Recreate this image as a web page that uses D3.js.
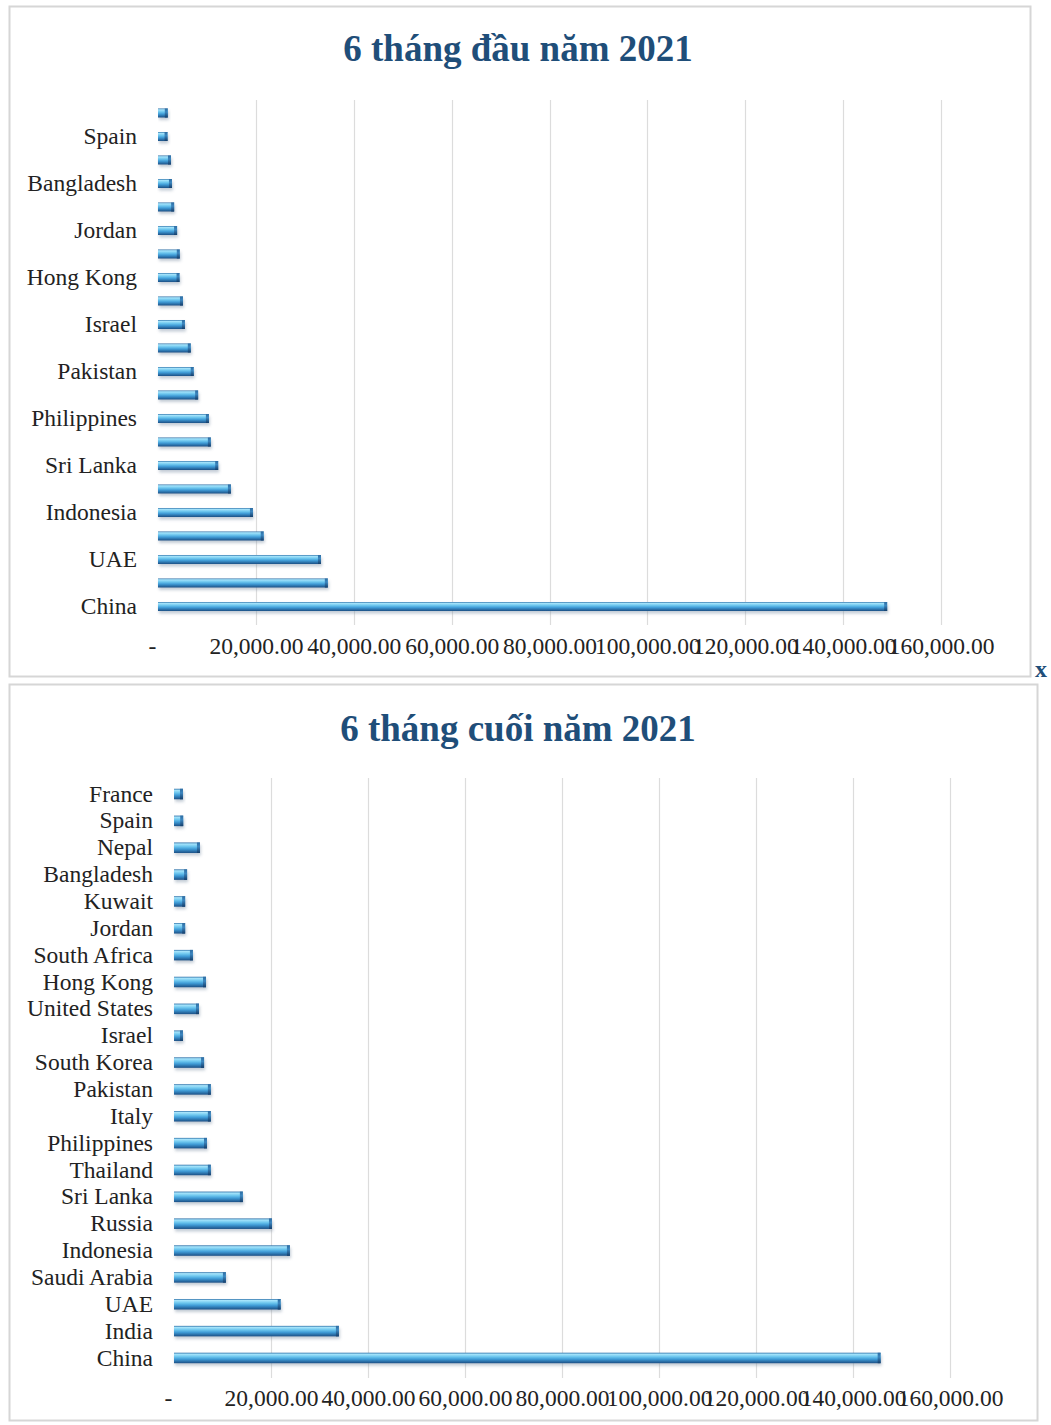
<!DOCTYPE html>
<html>
<head>
<meta charset="utf-8">
<script src="https://cdn.jsdelivr.net/npm/d3@7"></script>
<style>
  html, body { margin: 0; padding: 0; background: #ffffff; }
  svg { display: block; }
</style>
</head>
<body>
<svg id="chart" width="1051" height="1425"></svg>
<script>
// Countries, listed top to bottom as they appear on both panels
const countries = [
  "France", "Spain", "Nepal", "Bangladesh", "Kuwait", "Jordan", "South Africa",
  "Hong Kong", "United States", "Israel", "South Korea", "Pakistan", "Italy",
  "Philippines", "Thailand", "Sri Lanka", "Russia", "Indonesia", "Saudi Arabia",
  "UAE", "India", "China"
];

// First half of 2021
const firstHalf = [
  2000, 1950, 2650, 2850, 3300, 3900, 4450,
  4400, 5100, 5500, 6700, 7300, 8200,
  10400, 10800, 12300, 14900, 19400, 21600,
  33300, 34700, 149000
];

// Second half of 2021
const secondHalf = [
  1850, 1900, 5350, 2700, 2300, 2300, 3900,
  6600, 5150, 1850, 6200, 7600, 7600,
  6800, 7600, 14200, 20200, 23900, 10700,
  22000, 34000, 145700
];

const tickValues = [0, 20000, 40000, 60000, 80000, 100000, 120000, 140000, 160000];
const fmt = d => d === 0 ? "-" : d3.format(",.2f")(d);

const titles = ["6 tháng đầu năm 2021", "6 tháng cuối năm 2021"];

const svg = d3.select("#chart");
const defs = svg.append("defs");

// Glossy bar fill: light cyan highlight on top, deep blue underside
const grad = defs.append("linearGradient")
  .attr("id", "barFill").attr("x1", 0).attr("y1", 0).attr("x2", 0).attr("y2", 1);
[["0%", "#2a6ea6"], ["14%", "#a6e4fb"], ["38%", "#6cc6ee"], ["62%", "#3f9bd6"], ["100%", "#1b4f85"]]
  .forEach(([o, c]) => grad.append("stop").attr("offset", o).attr("stop-color", c));

const capGrad = defs.append("linearGradient")
  .attr("id", "capFill").attr("x1", 0).attr("y1", 0).attr("x2", 0).attr("y2", 1);
[["0%", "#2d6da3"], ["40%", "#3c86bf"], ["100%", "#143e6b"]]
  .forEach(([o, c]) => capGrad.append("stop").attr("offset", o).attr("stop-color", c));

const blur = defs.append("filter").attr("id", "shadow")
  .attr("x", "-10%").attr("y", "-60%").attr("width", "130%").attr("height", "260%");
blur.append("feGaussianBlur").attr("stdDeviation", 1.6);

function panel(cfg) {
  const g = svg.append("g");

  // Panel frame
  g.append("rect")
    .attr("x", cfg.frame[0] + 0.5).attr("y", cfg.frame[1] + 0.5)
    .attr("width", cfg.frame[2] - cfg.frame[0]).attr("height", cfg.frame[3] - cfg.frame[1])
    .attr("fill", "#ffffff").attr("stroke", "#d6d6d6").attr("stroke-width", 2);

  // Title
  g.append("text")
    .attr("x", cfg.titleX).attr("y", cfg.titleY)
    .attr("text-anchor", "middle")
    .attr("font-family", "'Liberation Serif', 'DejaVu Serif', serif")
    .attr("font-weight", "bold").attr("font-size", 37)
    .attr("fill", "#1f4e79")
    .text(cfg.title);

  const x = d3.scaleLinear().domain([0, 160000]).range([cfg.x0, cfg.x1]);
  const y = d3.scaleBand().domain(countries).range([cfg.yTop, cfg.yBottom]);

  // Vertical gridlines
  g.append("g").selectAll("line")
    .data(tickValues.slice(1))
    .join("line")
    .attr("x1", d => Math.round(x(d)) + 0.5).attr("x2", d => Math.round(x(d)) + 0.5)
    .attr("y1", cfg.gridTop).attr("y2", cfg.gridBottom)
    .attr("stroke", "#dcdcdc").attr("stroke-width", 1.2);

  // Value axis labels
  const xAxis = d3.axisBottom(x).tickValues(tickValues).tickFormat(fmt).tickSize(0).tickPadding(0);
  const xa = g.append("g")
    .attr("transform", `translate(0,${cfg.axisY})`)
    .call(xAxis);
  xa.select(".domain").remove();
  xa.selectAll("text")
    .attr("font-family", "'Liberation Serif', serif")
    .attr("font-size", 23.5).attr("fill", "#222");
  xa.selectAll(".tick").filter(d => d === 0).select("text").attr("dx", -6);

  // Category labels
  const yAxis = d3.axisLeft(y).tickValues(countries.filter((c, i) => (countries.length - 1 - i) % cfg.labelEvery === 0))
    .tickSize(0).tickPadding(cfg.labelPad);
  const ya = g.append("g").attr("transform", `translate(${cfg.x0},0)`).call(yAxis);
  ya.select(".domain").remove();
  ya.selectAll("text")
    .attr("font-family", "'Liberation Serif', serif")
    .attr("font-size", cfg.labelSize).attr("fill", "#222");

  const rows = countries.map((c, i) => ({ name: c, value: cfg.values[i] }));
  const bh = cfg.barH;
  const bars = g.append("g").selectAll("g").data(rows).join("g")
    .attr("transform", d => `translate(0,${y(d.name) + y.bandwidth() / 2 - bh / 2})`);

  // Soft drop shadow under each bar
  bars.append("rect")
    .attr("x", x(0) + 1).attr("y", 2.5)
    .attr("width", d => Math.max(4, x(d.value) - x(0)))
    .attr("height", bh)
    .attr("fill", "#7a8ea3").attr("opacity", 0.45)
    .attr("filter", "url(#shadow)");

  // Bar body
  bars.append("rect")
    .attr("x", x(0)).attr("y", 0)
    .attr("width", d => Math.max(4, x(d.value) - x(0)))
    .attr("height", bh)
    .attr("fill", "url(#barFill)");

  // Darker end face
  bars.append("rect")
    .attr("x", d => x(0) + Math.max(4, x(d.value) - x(0)) - 3).attr("y", 0)
    .attr("width", 3).attr("height", bh)
    .attr("fill", "url(#capFill)");
}

panel({
  frame: [9, 6, 1030, 676],
  title: titles[0], titleX: 518, titleY: 61,
  x0: 158, x1: 941,
  yTop: 101.25, yBottom: 618.25,
  gridTop: 100, gridBottom: 625,
  axisY: 637, barH: 9,
  labelEvery: 2, labelPad: 21, labelSize: 23.5,
  values: firstHalf
});

panel({
  frame: [9, 684, 1037, 1420],
  title: titles[1], titleX: 518, titleY: 741,
  x0: 174, x1: 950,
  yTop: 780.6, yBottom: 1371.4,
  gridTop: 778, gridBottom: 1378,
  axisY: 1389, barH: 10.5,
  labelEvery: 1, labelPad: 21, labelSize: 23.5,
  values: secondHalf
});

// Stray bold "x" glyph at the right edge between the panels
svg.append("text")
  .attr("x", 1041).attr("y", 677)
  .attr("text-anchor", "middle")
  .attr("font-family", "'Liberation Serif', serif")
  .attr("font-weight", "bold").attr("font-size", 24)
  .attr("fill", "#1f4e79")
  .text("x");
</script>
</body>
</html>
